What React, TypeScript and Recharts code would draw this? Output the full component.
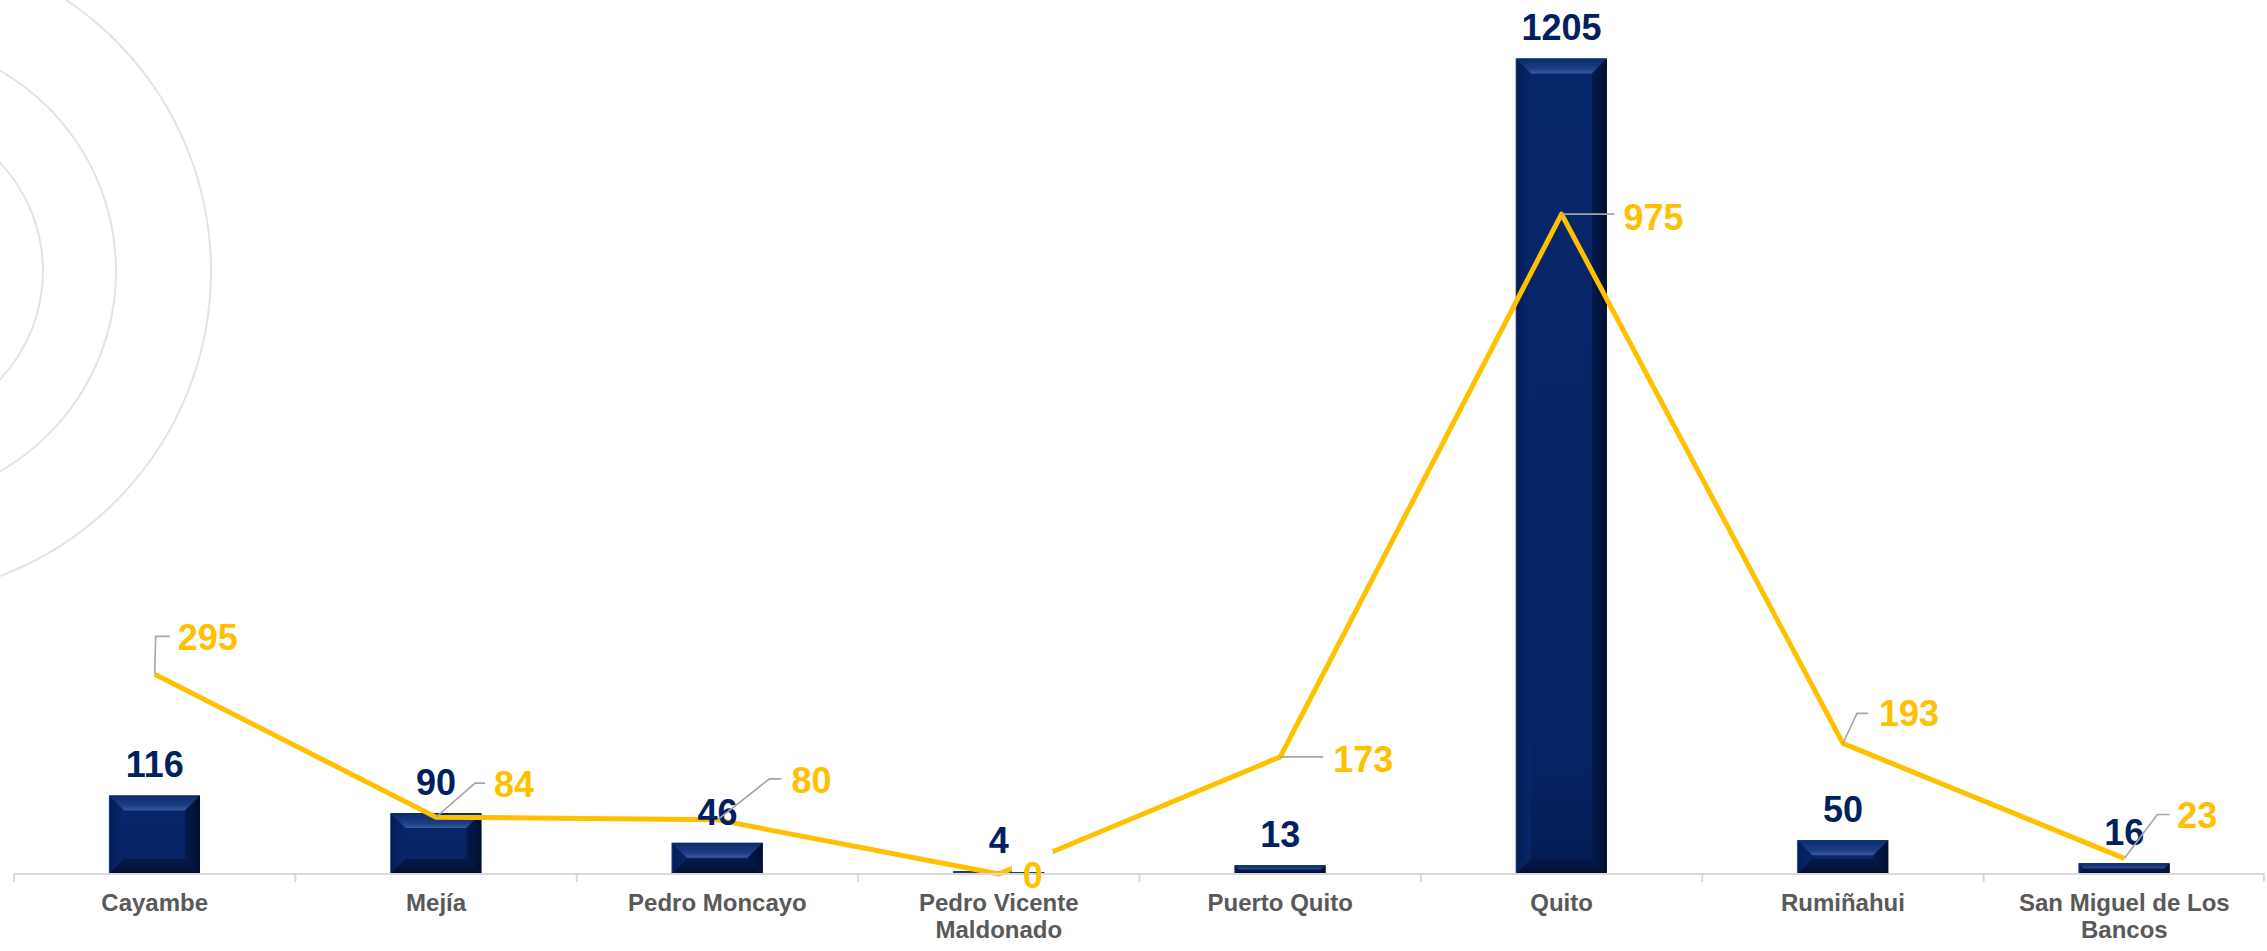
import React from 'react';
import { ComposedChart, Bar, Line, XAxis, YAxis, LabelList } from 'recharts';

// ---- data ----
const categories = [
  'Cayambe',
  'Mejía',
  'Pedro Moncayo',
  'Pedro Vicente Maldonado',
  'Puerto Quito',
  'Quito',
  'Rumiñahui',
  'San Miguel de Los Bancos',
];
const barValues = [116, 90, 46, 4, 13, 1205, 50, 16];
const lineValues = [295, 84, 80, 0, 173, 975, 193, 23];
const yDomain: [number, number] = [0, 1250];

const data = categories.map((name, i) => ({ name, bar: barValues[i], line: lineValues[i] }));

// ---- layout / style ----
const W = 2267;
const H = 951;
const MARGIN = { top: 28, right: 2, left: 14, bottom: 0 };
const XAXIS_H = 77;
const PLOT_W = W - MARGIN.left - MARGIN.right;
const BAND = PLOT_W / categories.length;
const FONT = '"Liberation Sans", Arial, Helvetica, sans-serif';
const NAVY = '#002060';
const GOLD = '#FFC000';
const AXIS = '#d9d9d9';
const LEADER = '#a6a6a6';

// label placement for the line series (relative to each point)
type Place = { elbow?: [number, number]; endX?: number; text: [number, number]; box?: boolean };
const linePlacement: Place[] = [
  { elbow: [1, -38], endX: 15, text: [23, -37] },
  { elbow: [39, -34], endX: 49, text: [58, -33] },
  { elbow: [52, -41], endX: 64, text: [74, -40] },
  { text: [24, 1], box: true },
  { elbow: [0, 0], endX: 43, text: [53, 2] },
  { elbow: [0, 0], endX: 53, text: [62, 3] },
  { elbow: [14, -30], endX: 25, text: [36, -30] },
  { elbow: [33, -44], endX: 45, text: [53, -43] },
];

let measureCtx: CanvasRenderingContext2D | null = null;
function textWidth(s: string): number {
  if (!measureCtx) {
    const c = document.createElement('canvas');
    measureCtx = c.getContext('2d');
  }
  if (!measureCtx) return s.length * 13;
  measureCtx.font = `bold 24px ${FONT}`;
  return measureCtx.measureText(s).width;
}
function wrap(label: string, maxW: number): string[] {
  const words = label.split(' ');
  const lines: string[] = [];
  let cur = '';
  for (const w of words) {
    const t = cur ? cur + ' ' + w : w;
    if (cur && textWidth(t) > maxW) {
      lines.push(cur);
      cur = w;
    } else cur = t;
  }
  if (cur) lines.push(cur);
  return lines;
}

const CategoryTick = (props: any) => {
  const { x, y, payload } = props;
  const index = props.index ?? payload?.index ?? categories.indexOf(payload.value);
  const lines = wrap(String(payload.value), 262);
  const isLast = index === categories.length - 1;
  return (
    <g>
      <line x1={x - BAND / 2} x2={x - BAND / 2} y1={y} y2={y + 8} stroke={AXIS} strokeWidth={2} />
      {isLast && <line x1={x + BAND / 2 - 1} x2={x + BAND / 2 - 1} y1={y} y2={y + 8} stroke={AXIS} strokeWidth={2} />}
      <text x={x} y={y + 37} textAnchor="middle" fill="#595959" fontSize={24} fontWeight="bold" fontFamily={FONT}>
        {lines.map((l, i) => (
          <tspan key={i} x={x} dy={i === 0 ? 0 : 27}>
            {l}
          </tspan>
        ))}
      </text>
    </g>
  );
};

const BevelBar = (props: any) => {
  const { x, y, width, height } = props;
  if (!height || height <= 0) return null;
  const b = Math.min(15, height / 2, width / 2);
  const x2 = x + width;
  const y2 = y + height;
  return (
    <g>
      <rect x={x} y={y} width={width} height={height} fill="url(#faceGrad)" />
      <polygon points={`${x},${y} ${x2},${y} ${x2 - b},${y + b} ${x + b},${y + b}`} fill="url(#topGrad)" />
      <polygon points={`${x},${y} ${x + b},${y + b} ${x + b},${y2 - b} ${x},${y2}`} fill="url(#leftGrad)" />
      <polygon points={`${x2},${y} ${x2},${y2} ${x2 - b},${y2 - b} ${x2 - b},${y + b}`} fill="url(#rightGrad)" />
      <polygon points={`${x},${y2} ${x + b},${y2 - b} ${x2 - b},${y2 - b} ${x2},${y2}`} fill="url(#bottomGrad)" />
      <line x1={x} y1={y} x2={x} y2={y2} stroke="#8a97b5" strokeOpacity={0.5} strokeWidth={1} />
    </g>
  );
};

const BarLabel = (props: any) => {
  const { x, y, value } = props;
  return (
    <text x={x} y={y - 18} textAnchor="middle" fill={NAVY} fontSize={36} fontWeight="bold" fontFamily={FONT}>
      {value}
    </text>
  );
};

const LineLabel = (props: any) => {
  const { x, y, value, index } = props;
  const p = linePlacement[index] ?? { text: [20, -30] as [number, number] };
  const tx = x + p.text[0];
  const ty = y + p.text[1];
  return (
    <g>
      {p.box && <rect x={tx - 11} y={ty - 25} width={41} height={22} fill="#ffffff" />}
      {p.elbow && p.endX !== undefined && (
        <polyline
          points={`${x},${y} ${x + p.elbow[0]},${y + p.elbow[1]} ${x + p.endX},${y + p.elbow[1]}`}
          fill="none"
          stroke={LEADER}
          strokeWidth={1.6}
        />
      )}
      <text x={tx} y={ty + 13} textAnchor="start" fill={GOLD} fontSize={36} fontWeight="bold" fontFamily={FONT}>
        {value}
      </text>
    </g>
  );
};

const Rings = () => (
  <svg width={W} height={H} style={{ position: 'absolute', left: 0, top: 0 }}>
    {[158, 231, 326].map((r) => (
      <circle key={r} cx={-115} cy={271} r={r} fill="none" stroke="#e3e3e3" strokeWidth={2} />
    ))}
  </svg>
);

export default function App() {
  return (
    <div style={{ position: 'relative', width: W, height: H, background: '#ffffff', overflow: 'hidden' }}>
      <style>{'body{margin:0;}'}</style>
      <Rings />
      <div style={{ position: 'absolute', left: 0, top: 0 }}>
        <ComposedChart width={W} height={H} data={data} margin={MARGIN} barCategoryGap={0}>
          <defs>
            <linearGradient id="faceGrad" x1="0" y1="0" x2="0" y2="1">
              <stop offset="0%" stopColor="#07276b" />
              <stop offset="85%" stopColor="#062465" />
              <stop offset="100%" stopColor="#041c52" />
            </linearGradient>
            <linearGradient id="topGrad" x1="0" y1="0" x2="0" y2="1">
              <stop offset="0%" stopColor="#0a2a6e" />
              <stop offset="70%" stopColor="#1f3f85" />
              <stop offset="100%" stopColor="#3c5b9e" />
            </linearGradient>
            <linearGradient id="leftGrad" x1="0" y1="0" x2="1" y2="0">
              <stop offset="0%" stopColor="#041d58" />
              <stop offset="100%" stopColor="#07266a" />
            </linearGradient>
            <linearGradient id="rightGrad" x1="0" y1="0" x2="1" y2="0">
              <stop offset="0%" stopColor="#041a4e" />
              <stop offset="100%" stopColor="#01102f" />
            </linearGradient>
            <linearGradient id="bottomGrad" x1="0" y1="0" x2="0" y2="1">
              <stop offset="0%" stopColor="#04194b" />
              <stop offset="100%" stopColor="#020f30" />
            </linearGradient>
          </defs>
          <XAxis
            dataKey="name"
            height={XAXIS_H}
            interval={0}
            tickSize={0}
            tickMargin={0}
            tickLine={false}
            axisLine={{ stroke: AXIS, strokeWidth: 2 }}
            tick={<CategoryTick />}
          />
          <YAxis hide domain={yDomain} />
          <Bar dataKey="bar" barSize={91} shape={<BevelBar />} isAnimationActive={false} />
          <Line
            type="linear"
            dataKey="line"
            stroke={GOLD}
            strokeWidth={5}
            strokeLinejoin="round"
            dot={false}
            activeDot={false}
            isAnimationActive={false}
          />
          <Line dataKey="bar" stroke="none" dot={false} activeDot={false} legendType="none" isAnimationActive={false}>
            <LabelList dataKey="bar" content={BarLabel} />
          </Line>
          <Line dataKey="line" stroke="none" dot={false} activeDot={false} legendType="none" isAnimationActive={false}>
            <LabelList dataKey="line" content={LineLabel} />
          </Line>
        </ComposedChart>
      </div>
    </div>
  );
}
